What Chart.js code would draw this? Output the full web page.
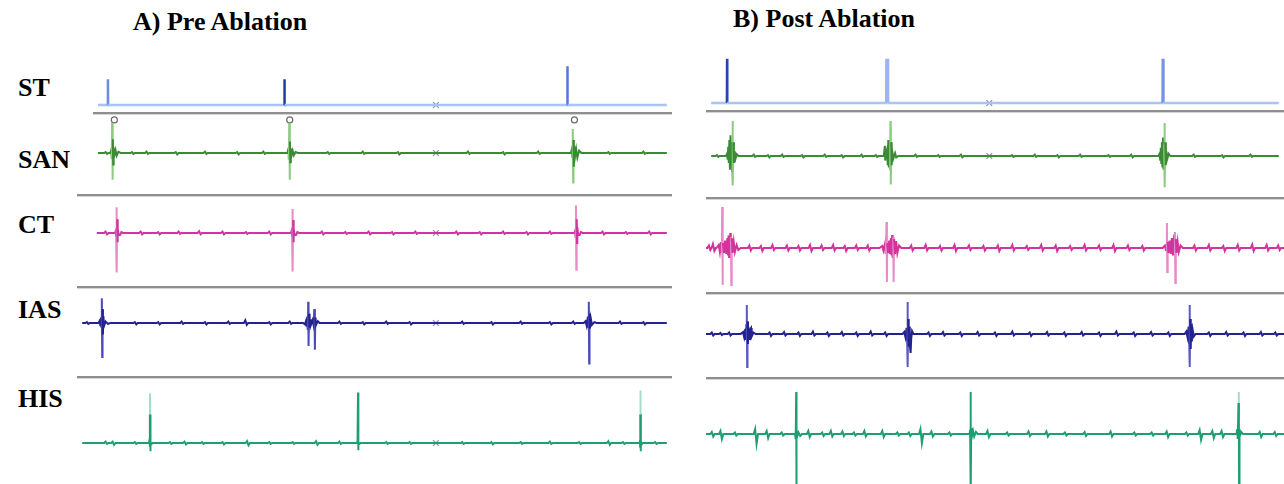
<!DOCTYPE html>
<html lang="en">
<head>
  <meta charset="UTF-8">
  <title>Pre / Post Ablation electrograms</title>
  <script src="https://cdn.jsdelivr.net/npm/chart.js@4.4.0/dist/chart.umd.min.js"></script>
  <style>
    html, body { margin: 0; padding: 0; background: #fff; }
    body { width: 1284px; height: 484px; position: relative; overflow: hidden; }
    .txt {
      position: absolute; font-family: "Liberation Serif", "Times New Roman", serif;
      font-weight: bold; font-size: 26px; line-height: 26px; color: #000; white-space: nowrap;
    }
    .sep { position: absolute; height: 2px; background: #8e8e8e; border-bottom: 1px solid #d4d4d4; }
    canvas { position: absolute; }
  </style>
</head>
<body>
  <div class="txt" style="left:133px; top:9px;">A) Pre Ablation</div>
  <div class="txt" style="left:733px; top:6px;">B) Post Ablation</div>
  <div class="txt" style="left:18px; top:75px;">ST</div>
  <div class="txt" style="left:18px; top:147px;">SAN</div>
  <div class="txt" style="left:18px; top:212px;">CT</div>
  <div class="txt" style="left:18px; top:297px;">IAS</div>
  <div class="txt" style="left:18px; top:386px;">HIS</div>

  <!-- row separators -->
  <div class="sep" style="left:93px; top:112px; width:579px;"></div>
  <div class="sep" style="left:77px; top:194px; width:595px;"></div>
  <div class="sep" style="left:77px; top:286px; width:595px;"></div>
  <div class="sep" style="left:77px; top:376px; width:595px;"></div>
  <div class="sep" style="left:706px; top:110px; width:578px;"></div>
  <div class="sep" style="left:706px; top:197px; width:578px;"></div>
  <div class="sep" style="left:706px; top:292px; width:578px;"></div>
  <div class="sep" style="left:706px; top:377px; width:578px;"></div>

<script>
  // time in ms (0-1000 per panel), amplitude in mV
  // blips: [time, up, down]   beats: lists of [time, mV]

  // --- ST (stimulus) ---
  const stPreStart = 27;
  const stPreSpikes = [44, 346, 830];
  const stPreHeights = [0.56, 0.56, 0.84];
  const stPreColors = ['#6d8de0', '#1f3d9c', '#5577dc'];
  const stPostStart = 0;
  const stPostSpikes = [28, 310, 796];
  const stPostHeights = [0.96, 0.96, 0.96];
  const stPostColors = ['#2446b0', '#9bb5f2', '#7593e6'];

  // --- markers ---
  const cursorPre = 605;
  const cursorPost = 490;
  const sanPreMarks = [55, 355, 842];
  const sanPreMarkLevel = 0.72;

  // --- SAN ---
  const sanPreStart = 27;
  const sanPreBlips = [[40,0.02,-0.02],[85,0.02,-0.02],[110,0.03,-0.02],[160,0.02,-0.03],[210,0.03,-0.02],[265,0.02,-0.03],[310,0.03,-0.02],
    [420,0.02,-0.02],[480,0.03,-0.02],[540,0.02,-0.03],[660,0.03,-0.02],[720,0.02,-0.03],[780,0.03,-0.02],[900,0.02,-0.02],[960,0.03,-0.02]];
  const sanPreBeats = [
    [[48,0],[50,0.08],[50.6,-0.12],[51.2,0.66],[51.8,-0.58],[52.4,0.3],[53,-0.25],[53.8,0.12],[55,-0.05],[57,0.06],[59,-0.06],[62,0.03],[66,0]],
    [[351,0],[353,0.1],[353.6,-0.15],[354.2,0.66],[354.8,-0.58],[355.4,0.25],[356,-0.2],[356.8,0.1],[358,-0.06],[360,0.05],[362,-0.05],[365,0.02],[369,0]],
    [[836,0],[838,0.1],[838.6,-0.1],[839.2,0.52],[839.8,-0.64],[840.4,0.28],[841,-0.3],[841.8,0.15],[843,-0.08],[845,0.08],[847,-0.1],[850,0.05],[854,0]]
  ];
  const sanPostStart = 0;
  const sanPostBlips = [[10,0.02,-0.02],[75,0.03,-0.02],[100,0.02,-0.03],[125,0.03,-0.02],[160,0.02,-0.03],[200,0.03,-0.02],[230,0.02,-0.03],[265,0.03,-0.02],[290,0.02,-0.02],
    [360,0.03,-0.02],[400,0.02,-0.02],[440,0.03,-0.03],[530,0.02,-0.02],[570,0.03,-0.02],[610,0.02,-0.03],[650,0.03,-0.02],[700,0.02,-0.02],[740,0.03,-0.03],
    [850,0.03,-0.02],[900,0.02,-0.03],[950,0.03,-0.02]];
  const sanPostBeats = [
    [[26,0],[28,0.05],[29,-0.08],[30,0.2],[31,-0.15],[32,0.35],[33,-0.3],[34,0.45],[35,-0.2],[36,0.3],[37,-0.35],[37.6,0.76],[38.2,-0.64],[39,0.3],[40,-0.15],[41.5,0.1],[43,-0.05],[45,0.04],[48,0]],
    [[304,0],[306,0.22],[306.6,-0.1],[308,0.05],[310,0.15],[311,-0.2],[312,0.35],[313,-0.25],[314,0.3],[315,-0.3],[315.8,0.76],[316.4,-0.62],[317.2,0.3],[318,-0.2],[319,0.1],[321,-0.05],[324,0.06],[326,-0.03],[330,0]],
    [[788,0],[790,0.05],[791,-0.08],[792,0.18],[793,-0.15],[794,0.3],[795,-0.25],[796,0.4],[797,-0.3],[798,0.25],[798.6,0.72],[799.2,-0.68],[800,0.3],[801,-0.2],[802,0.1],[803.5,-0.06],[806,0.05],[809,0]]
  ];

  // --- CT ---
  const ctPreStart = 25;
  const ctPreBlips = [[40,0.03,-0.03],[100,0.03,-0.03],[130,0.02,-0.03],[165,0.03,-0.02],[200,0.04,-0.03],[240,0.03,-0.03],[280,0.02,-0.02],[320,0.03,-0.03],
    [410,0.03,-0.03],[450,0.02,-0.02],[490,0.03,-0.03],[530,0.02,-0.03],[570,0.03,-0.02],[640,0.03,-0.03],[680,0.02,-0.03],[720,0.03,-0.02],[760,0.02,-0.03],[800,0.03,-0.02],
    [890,0.03,-0.03],[930,0.02,-0.02],[970,0.03,-0.03]];
  const ctPreBeats = [
    [[56,0],[57.5,0.05],[58,-0.08],[58.6,0.56],[59.2,-0.86],[59.8,0.3],[60.4,-0.2],[61,0.1],[62.5,-0.05],[65,-0.04],[67,0.02],[70,0]],
    [[357,0],[358.5,0.06],[359,-0.08],[359.6,0.52],[360.2,-0.84],[360.8,0.28],[361.4,-0.2],[362,0.1],[363.5,-0.05],[366,-0.04],[368,0.02],[371,0]],
    [[842,0],[843.5,0.06],[844,-0.1],[844.6,0.6],[845.2,-0.8],[845.8,0.3],[846.4,-0.22],[847,0.12],[848.5,-0.05],[851,-0.04],[853,0.02],[856,0]]
  ];
  const ctPostStart = 0;
  const ctPostBlips = [[5,0.05,-0.04],[12,0.08,-0.06],[75,0.05,-0.05],[95,0.04,-0.06],[115,0.06,-0.04],[140,0.05,-0.05],[160,0.04,-0.05],[180,0.06,-0.06],[200,0.05,-0.04],
    [220,0.06,-0.05],[240,0.04,-0.06],[260,0.05,-0.04],[280,0.05,-0.05],[355,0.05,-0.05],[380,0.06,-0.05],[405,0.04,-0.05],[430,0.06,-0.06],[455,0.05,-0.04],[480,0.04,-0.05],
    [505,0.05,-0.06],[530,0.06,-0.05],[555,0.04,-0.04],[580,0.06,-0.05],[605,0.05,-0.06],[630,0.04,-0.04],[655,0.06,-0.05],[680,0.05,-0.04],[705,0.06,-0.06],[730,0.05,-0.04],
    [755,0.04,-0.05],[845,0.05,-0.05],[870,0.06,-0.05],[895,0.04,-0.06],[920,0.06,-0.05],[945,0.07,-0.06],[970,0.06,-0.05],[990,0.05,-0.04]];
  const ctPostBeats = [
    [[18,0],[22,0.06],[24,-0.08],[26,0.12],[27.4,-0.1],[28,0.82],[28.6,-0.74],[29.2,0.1],[31,-0.1],[33,0.15],[35,-0.12],[37,0.2],[38,-0.15],[39,0.25],[40,-0.2],[42,0.3],[42.6,-0.2],[43.2,0.22],[43.8,-0.74],[44.5,0.2],[46,-0.1],[48,0.12],[50,-0.08],[53,0.06],[56,-0.04],[60,0]],
    [[300,0],[305,0.04],[307,-0.05],[310,0.1],[311,-0.12],[312.4,0.52],[313,-0.68],[313.6,0.1],[315,-0.1],[317,0.15],[318,-0.12],[320,0.2],[321,-0.15],[322,0.26],[323,-0.2],[324,0.22],[324.6,-0.68],[325.4,0.18],[327,-0.12],[329,0.14],[331,-0.1],[334,0.05],[338,0]],
    [[790,0],[794,0.05],[796,-0.06],[797.4,0.5],[798,-0.48],[798.8,0.12],[800,-0.1],[802,0.15],[804,-0.12],[806,0.2],[808,-0.15],[810,0.25],[811.4,0.32],[812,-0.7],[812.8,0.18],[814,-0.1],[816,0.12],[818,-0.08],[821,0.05],[825,0]]
  ];

  // --- IAS ---
  const iasPreStart = 0;
  const iasPreBlips = [[8,0.02,-0.02],[90,0.02,-0.03],[130,0.02,-0.03],[170,0.03,-0.02],[210,0.02,-0.03],[250,0.03,-0.02],[279,0.06,-0.04],[320,0.02,-0.03],[355,0.03,-0.02],
    [440,0.03,-0.02],[480,0.02,-0.03],[520,0.03,-0.02],[560,0.02,-0.03],[650,0.03,-0.02],[700,0.02,-0.03],[750,0.03,-0.02],[800,0.02,-0.03],[840,0.03,-0.02],
    [920,0.03,-0.02],[960,0.02,-0.03]];
  const iasPreBeats = [
    [[28,0],[30,0.05],[31,-0.05],[32,0.12],[33,-0.1],[33.6,0.54],[34.2,-0.74],[34.8,0.3],[35.4,-0.25],[36.2,0.15],[37.5,-0.06],[40,0.03],[44,-0.02],[48,0]],
    [[378,0],[381,-0.03],[383,0.05],[384,-0.08],[385,0.12],[386,-0.15],[386.6,0.46],[387.2,-0.5],[388,0.2],[389,-0.1],[390,0.08],[391,-0.05],[394,0.06],[396,-0.06],[397.4,0.3],[398,-0.58],[398.8,0.12],[400,-0.04],[403,0.04],[406,0]],
    [[858,0],[861,0.04],[863,-0.06],[865,0.14],[866,-0.1],[866.6,0.46],[867.2,-0.88],[867.8,0.2],[868.6,-0.12],[870,0.1],[872,-0.04],[876,0.02],[880,0]]
  ];
  const iasPostStart = 0;
  const iasPostBlips = [[10,0.03,-0.03],[25,0.02,-0.02],[40,0.03,-0.03],[110,0.03,-0.04],[135,0.04,-0.03],[160,0.03,-0.04],[185,0.05,-0.03],[210,0.03,-0.04],[235,0.04,-0.03],
    [260,0.03,-0.04],[285,0.05,-0.03],[310,0.03,-0.04],[385,0.03,-0.04],[410,0.04,-0.03],[440,0.03,-0.04],[470,0.04,-0.03],[500,0.03,-0.04],[530,0.05,-0.03],[560,0.03,-0.04],
    [590,0.04,-0.03],[620,0.03,-0.04],[650,0.04,-0.03],[680,0.03,-0.04],[710,0.05,-0.03],[740,0.03,-0.04],[770,0.04,-0.03],[800,0.03,-0.04],
    [870,0.03,-0.04],[900,0.04,-0.03],[930,0.03,-0.04],[960,0.04,-0.03],[985,0.03,-0.03]];
  const iasPostBeats = [
    [[60,0],[64,0.04],[66,-0.06],[68,0.1],[69,-0.12],[70,0.2],[70.6,0.58],[71.2,-0.66],[71.8,0.25],[72.6,-0.2],[73.4,0.15],[74.5,-0.1],[76,0.08],[78,0.12],[79,-0.05],[82,0.03],[86,0]],
    [[340,0],[343,0.04],[345,-0.06],[347,0.12],[348,-0.15],[348.6,0.64],[349.2,-0.66],[349.8,0.3],[350.6,-0.25],[351.5,0.15],[352.5,-0.2],[354,-0.38],[355,-0.1],[356.5,0.06],[359,0]],
    [[828,0],[831,0.05],[833,-0.06],[835,0.15],[836,-0.2],[836.6,0.58],[837.2,-0.66],[837.8,0.3],[838.6,-0.3],[839.5,0.2],[840.5,-0.15],[842,0.08],[844,-0.05],[847,0]]
  ];

  // --- HIS ---
  const hisPreStart = 0;
  const hisPreBlips = [[40,0.03,-0.02],[52,0.03,-0.04],[90,0.02,-0.02],[150,0.02,-0.02],[175,0.03,-0.03],[205,0.02,-0.02],[240,0.02,-0.03],[282,0.04,-0.05],[320,0.02,-0.02],
    [360,0.02,-0.02],[400,0.04,-0.04],[440,0.03,-0.02],[520,0.02,-0.02],[560,0.02,-0.02],[650,0.02,-0.02],[700,0.02,-0.03],[750,0.02,-0.02],[800,0.03,-0.02],[850,0.02,-0.02],
    [900,0.04,-0.04],[925,0.02,-0.02],[980,0.02,-0.02]];
  const hisPreBeats = [
    [[114,0],[115,0.06],[115.6,-0.08],[115.9,0.62],[116,1.08],[116.1,0.62],[116.3,-0.18],[116.6,0.04],[117.5,-0.05],[120,0]],
    [[470,0],[471,0.04],[471.8,1.1],[472.2,-0.16],[472.6,0.03],[473.5,-0.03],[476,0]],
    [[953,0],[954,0.06],[954.6,-0.08],[954.9,0.62],[955,1.14],[955.1,0.62],[955.3,-0.18],[955.6,0.05],[956.5,-0.04],[959,0]]
  ];
  const hisPostStart = 0;
  const hisPostBlips = [[10,0.04,-0.05],[25,0.06,-0.1],[50,0.03,-0.03],[85,0.1,-0.2],[105,0.06,-0.08],[131,0.03,-0.03],[177,0.06,-0.06],[201,0.03,-0.04],[216,0.06,-0.05],
    [236,0.05,-0.04],[256,0.03,-0.03],[274,0.06,-0.05],[305,0.06,-0.06],[331,0.03,-0.03],[351,0.03,-0.04],[371,0.1,-0.18],[390,0.05,-0.05],[421,0.03,-0.03],
    [487,0.06,-0.06],[521,0.03,-0.03],[558,0.05,-0.04],[589,0.05,-0.05],[621,0.03,-0.03],[655,0.04,-0.04],[700,0.05,-0.05],[741,0.03,-0.03],[771,0.03,-0.03],[797,0.05,-0.06],
    [831,0.03,-0.03],[854,0.08,-0.12],[876,0.06,-0.08],[892,0.06,-0.06],[958,0.04,-0.06],[984,0.04,-0.04]];
  const hisPostBeats = [
    [[154,0],[155,0.08],[155.5,-0.1],[156,0.84],[156.4,-1.2],[156.8,0.1],[157.5,-0.06],[160,0.03],[163,-0.04],[166,0]],
    [[456,0],[457,0.08],[457.5,-0.1],[458,0.84],[458.4,-1.2],[458.8,0.12],[459.5,-0.08],[462,0.06],[464,-0.05],[467,0.04],[470,0]],
    [[918,0],[919,0.1],[920,-0.1],[921.3,0.62],[921.6,0.84],[921.9,0.62],[922.2,-1.2],[922.6,0.1],[923.5,-0.06],[926,0.04],[929,0]]
  ];

  // layout of the two panels and the trace rows (canvas top = baseline - 65px)
  const panels = { pre: { left: 77, width: 595 }, post: { left: 706, width: 578 } };
  const ROW_H = 130;
  const Y_RANGE = 1.3;

  const xy = arr => arr.map(p => ({ x: p[0], y: p[1] }));

  function stPoints(start, spikes, heights) {
    const pts = [[start, 0]];
    spikes.forEach((t, i) => { pts.push([t - 0.3, 0], [t, heights[i]], [t + 0.3, 0]); });
    pts.push([1000, 0]);
    return pts;
  }

  function egmPoints(start, blips, beats) {
    const pts = [[start, 0]];
    blips.forEach(([t, up, down]) => pts.push([t - 2.5, 0], [t, up], [t + 2.5, down], [t + 5, 0]));
    beats.forEach(b => pts.push(...b));
    pts.push([1000, 0]);
    return pts.sort((a, b) => a[0] - b[0]);
  }

  function trace(panel, top, datasets) {
    const p = panels[panel];
    const cv = document.createElement('canvas');
    cv.width = p.width; cv.height = ROW_H;
    cv.style.left = p.left + 'px'; cv.style.top = top + 'px';
    document.body.appendChild(cv);
    new Chart(cv, {
      type: 'line',
      data: { datasets },
      options: {
        responsive: false, animation: false, devicePixelRatio: 1,
        layout: { padding: 0 },
        plugins: { legend: { display: false }, tooltip: { enabled: false } },
        elements: { point: { radius: 0 }, line: { tension: 0 } },
        scales: {
          x: { type: 'linear', min: 0, max: 1000, display: false },
          y: { min: -Y_RANGE, max: Y_RANGE, display: false }
        }
      }
    });
  }

  function signal(points, color, light, lightIf, width) {
    return {
      data: xy(points), borderColor: color, borderWidth: width || 2, clip: false,
      segment: { borderColor: c => lightIf(c.p0.parsed.y, c.p1.parsed.y) ? light : undefined }
    };
  }

  function stSignal(start, spikes, heights, colors, baseColor, spikeWidths) {
    const spikeIndex = c => {
      if (Math.max(Math.abs(c.p0.parsed.y), Math.abs(c.p1.parsed.y)) < 0.05) return -1;
      return spikes.findIndex(t => Math.abs(t - c.p0.parsed.x) < 1);
    };
    return {
      data: xy(stPoints(start, spikes, heights)), borderColor: baseColor, borderWidth: 2.6, clip: false,
      segment: {
        borderColor: c => { const i = spikeIndex(c); return i < 0 ? undefined : colors[i]; },
        borderWidth: c => { const i = spikeIndex(c); return i < 0 ? undefined : spikeWidths[i]; }
      }
    };
  }

  function cursor(t) {
    return { data: [{ x: t, y: 0 }], showLine: false, pointStyle: 'crossRot', pointRadius: 4,
             pointBorderColor: '#8a8aa4', pointBorderWidth: 1.2, clip: false };
  }

  const big = th => (a, b) => Math.max(Math.abs(a), Math.abs(b)) > th;
  const topOnly = th => (a, b) => Math.min(a, b) > th;

  // Pre ablation
  trace('pre', 40, [stSignal(stPreStart, stPreSpikes, stPreHeights, stPreColors, '#a9c4f4', [2.5, 2.5, 2.5]), cursor(cursorPre)]);
  trace('pre', 88, [
    signal(egmPoints(sanPreStart, sanPreBlips, sanPreBeats), '#3b8a36', '#8acb7e', big(0.4)),
    cursor(cursorPre),
    { data: sanPreMarks.map(t => ({ x: t, y: sanPreMarkLevel })), showLine: false, pointStyle: 'circle', pointRadius: 3,
      pointBorderColor: '#6a6a6a', pointBackgroundColor: '#fff', pointBorderWidth: 1.2, clip: false }
  ]);
  trace('pre', 168, [signal(egmPoints(ctPreStart, ctPreBlips, ctPreBeats), '#d2339c', '#e68bc9', big(0.4)), cursor(cursorPre)]);
  trace('pre', 258, [signal(egmPoints(iasPreStart, iasPreBlips, iasPreBeats), '#232390', '#4a4ab8', big(0.45)), cursor(cursorPre)]);
  trace('pre', 378, [signal(egmPoints(hisPreStart, hisPreBlips, hisPreBeats), '#1f9e72', '#a5dcc6', topOnly(0.6)), cursor(cursorPre)]);

  // Post ablation
  trace('post', 38, [stSignal(stPostStart, stPostSpikes, stPostHeights, stPostColors, '#a9c4f4', [2.5, 4, 3]), cursor(cursorPost)]);
  trace('post', 91, [signal(egmPoints(sanPostStart, sanPostBlips, sanPostBeats), '#3b8a36', '#8acb7e', big(0.45)), cursor(cursorPost)]);
  trace('post', 183, [signal(egmPoints(ctPostStart, ctPostBlips, ctPostBeats), '#d2339c', '#e68bc9', big(0.4))]);
  trace('post', 269, [signal(egmPoints(iasPostStart, iasPostBlips, iasPostBeats), '#232390', '#5a5ac6', big(0.45))]);
  trace('post', 369, [signal(egmPoints(hisPostStart, hisPostBlips, hisPostBeats), '#1f9e72', '#a5dcc6', topOnly(0.6))]);
</script>
</body>
</html>
